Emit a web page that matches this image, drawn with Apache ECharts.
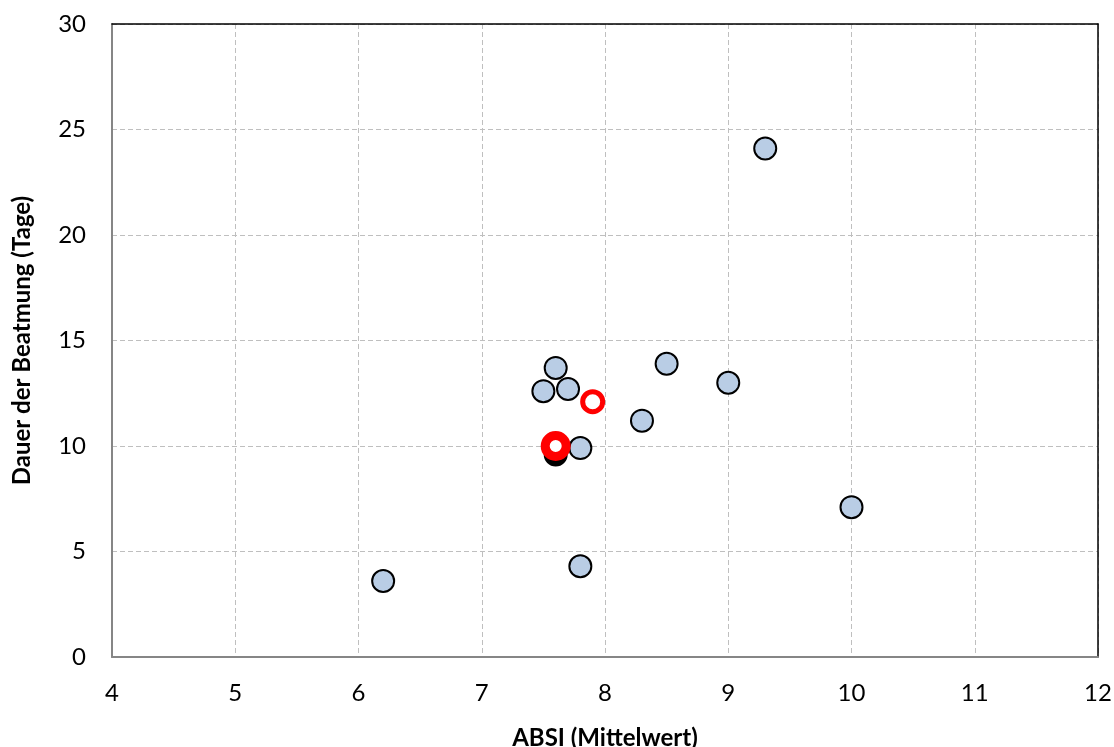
<!DOCTYPE html>
<html><head><meta charset="utf-8">
<script src="https://cdn.jsdelivr.net/npm/echarts@6/dist/echarts.min.js"></script>
<style>html,body{margin:0;padding:0;background:#fff}#c{width:1114px;height:747px}</style>
</head><body><div id="c"></div>
<script>
const xTicks = [4, 5, 6, 7, 8, 9, 10, 11, 12];
const yTicks = [0, 5, 10, 15, 20, 25, 30];
const blueX = [6.2, 7.8, 7.6, 7.5, 7.7, 7.8, 8.3, 8.5, 9.0, 9.3, 10.0];
const blueY = [3.6, 4.3, 13.7, 12.6, 12.7, 9.9, 11.2, 13.9, 13.0, 24.1, 7.1];
const blackX = [7.6];
const blackY = [9.6];
const redThinX = [7.9];
const redThinY = [12.1];
const redThickX = [7.6];
const redThickY = [10.0];

const zip = (a, b) => a.map((v, i) => [v, b[i]]);
const font = 'Lato, "Open Sans", sans-serif';
const xMin = xTicks[0], xMax = xTicks[xTicks.length - 1];
const yMin = yTicks[0], yMax = yTicks[yTicks.length - 1];
const chart = echarts.init(document.getElementById('c'), null, {renderer: 'canvas'});
chart.setOption({
  animation: false,
  grid: {left: 112, right: 16, top: 24, bottom: 90, containLabel: false, outerBoundsMode: 'none'},
  xAxis: [{
    type: 'value', min: xMin, max: xMax, interval: 1,
    name: 'ABSI (Mittelwert)', nameLocation: 'middle', nameGap: 69,
    nameTextStyle: {fontFamily: font, fontSize: 24, fontWeight: 'bold', color: '#000'},
    axisLine: {show: true, onZero: false, lineStyle: {color: '#868686', width: 2}},
    axisTick: {show: false},
    axisLabel: {fontFamily: font, fontSize: 24, color: '#000', margin: 24},
    splitLine: {show: true, lineStyle: {color: '#bfbfbf', type: [5, 3], width: 1}}
  }, {
    type: 'value', position: 'top', min: xMin, max: xMax, interval: 1,
    axisLine: {show: true, onZero: false, lineStyle: {color: '#000', width: 1.5}},
    axisTick: {show: false}, axisLabel: {show: false}, splitLine: {show: false}
  }],
  yAxis: [{
    type: 'value', min: yMin, max: yMax, interval: 5,
    name: 'Dauer der Beatmung (Tage)', nameLocation: 'middle', nameGap: 78,
    nameTextStyle: {fontFamily: font, fontSize: 24, fontWeight: 'bold', color: '#000'},
    axisLine: {show: true, onZero: false, lineStyle: {color: '#868686', width: 2}},
    axisTick: {show: false},
    axisLabel: {fontFamily: font, fontSize: 24, color: '#000', margin: 26},
    splitLine: {show: true, lineStyle: {color: '#bfbfbf', type: [5, 3], width: 1}}
  }, {
    type: 'value', position: 'right', min: yMin, max: yMax, interval: 5,
    axisLine: {show: true, onZero: false, lineStyle: {color: '#000', width: 1.5}},
    axisTick: {show: false}, axisLabel: {show: false}, splitLine: {show: false}
  }],
  series: [
    {type: 'scatter', data: zip(blueX, blueY), symbol: 'circle', symbolSize: 22,
     itemStyle: {color: '#b9cde5', borderColor: '#000', borderWidth: 2, opacity: 1}, z: 3},
    {type: 'scatter', data: zip(blackX, blackY), symbol: 'circle', symbolSize: 22,
     itemStyle: {color: '#000', borderColor: '#000', borderWidth: 2, opacity: 1}, z: 4},
    {type: 'scatter', data: zip(redThinX, redThinY), symbol: 'circle', symbolSize: 20,
     itemStyle: {color: '#fff', borderColor: '#ff0000', borderWidth: 5, opacity: 1}, z: 5},
    {type: 'scatter', data: zip(redThickX, redThickY), symbol: 'circle', symbolSize: 21,
     itemStyle: {color: '#fff', borderColor: '#ff0000', borderWidth: 9, opacity: 1}, z: 6}
  ]
});
</script></body></html>
